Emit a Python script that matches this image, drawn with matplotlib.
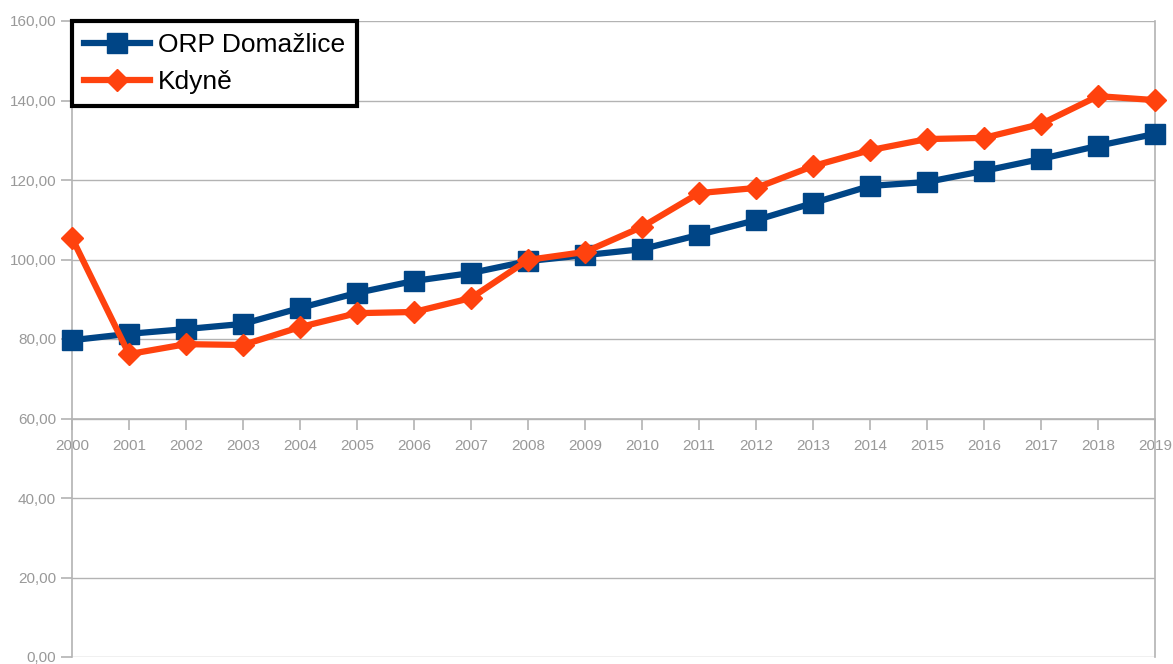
import matplotlib.pyplot as plt
from matplotlib.ticker import FuncFormatter

years = list(range(2000, 2020))
domazlice = [79.7, 81.3, 82.5, 83.8, 87.8, 91.6, 94.6, 96.6, 99.6, 101.1,
             102.6, 106.2, 109.9, 114.2, 118.5, 119.5, 122.3, 125.3, 128.6, 131.6]
kdyne = [105.4, 76.2, 78.7, 78.5, 83.0, 86.5, 86.8, 90.3, 99.9, 101.9,
         108.2, 116.7, 118.0, 123.5, 127.5, 130.3, 130.6, 134.1, 141.1, 140.1]

plt.rcParams['font.family'] = ['Liberation Sans', 'DejaVu Sans']

fig = plt.figure(figsize=(11.73, 6.64), dpi=100)
ax = fig.add_axes([72 / 1173, 1 - 657 / 664, (1155 - 72) / 1173, (657 - 21) / 664])

grey = '#b3b3b3'
ax.plot(years, domazlice, color='#004586', lw=4.5, marker='s', ms=14,
        label='ORP Domažlice', clip_on=False, zorder=3)
ax.plot(years, kdyne, color='#ff420e', lw=4.5, marker='D', ms=11,
        label='Kdyně', clip_on=False, zorder=4)

ax.set_xlim(2000, 2019)
ax.set_ylim(0, 160)
ax.set_yticks(range(0, 161, 20))
ax.set_xticks(years)
ax.yaxis.set_major_formatter(FuncFormatter(lambda v, p: f'{v:.2f}'.replace('.', ',')))
ax.grid(axis='y', color=grey, lw=1)
ax.set_axisbelow(True)

ax.spines['top'].set_visible(False)
ax.spines['bottom'].set_position(('data', 60))
for s in ['bottom', 'left', 'right']:
    ax.spines[s].set_color(grey)
    ax.spines[s].set_linewidth(1.2)
ax.tick_params(axis='both', colors=grey, labelcolor='#999999', labelsize=11,
               length=8, width=1.2)
ax.tick_params(axis='x', pad=7)

leg = ax.legend(loc='upper left', bbox_to_anchor=(0.0, 1.0), fontsize=19,
                fancybox=False, borderaxespad=0, handlelength=2.5,
                borderpad=0.45, labelspacing=0.5, handletextpad=0.3)
leg.get_frame().set_edgecolor('black')
leg.get_frame().set_linewidth(3)
leg.get_frame().set_alpha(1)

plt.savefig('out.png', dpi=100)
